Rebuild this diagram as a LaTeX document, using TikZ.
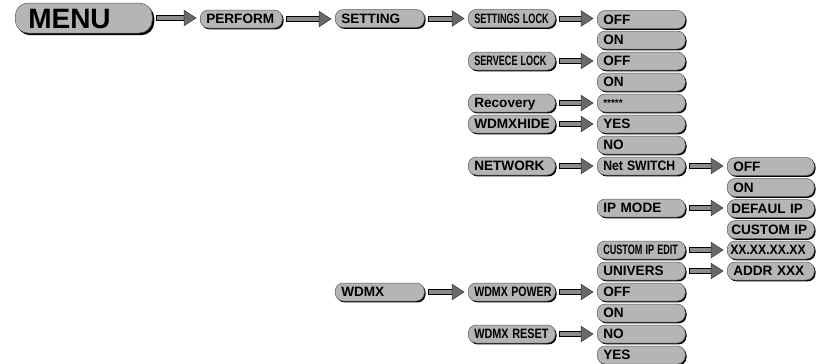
\documentclass[tikz,border=0pt]{standalone}
\usepackage{fontspec}
\setmainfont{Liberation Sans}
\usetikzlibrary{calc,shadows}
\definecolor{boxgray}{RGB}{181,181,181}
\definecolor{shaftgray}{RGB}{140,140,140}
\definecolor{headgray}{RGB}{105,105,105}
\tikzset{
  bx/.style={draw=black!65, line width=0.5pt, fill=boxgray, rounded corners=8pt,
    minimum height=18pt, inner ysep=0pt, inner xsep=6pt, anchor=west, align=left,
    text height=9.8pt, text depth=0pt,
    font=\bfseries\fontsize{13.6}{13.6}\selectfont,
    drop shadow={shadow xshift=1.3pt, shadow yshift=-1.4pt, fill=black, opacity=1}},
  cP/.style={bx, text width=70pt},
  cA/.style={bx, text width=77pt},
  cB/.style={bx, text width=75pt},
  cC/.style={bx, text width=76pt},
  cD/.style={bx, text width=75pt},
  shaft/.style={fill=shaftgray, draw=black, line width=0.6pt},
  head/.style={fill=headgray, draw=black!80, line width=0.5pt}
}
\newcommand{\conn}[2]{%
  \filldraw[shaft] let \p1=(#1.east), \p2=(#2.west) in
    (\x1+4pt,\y1+2.7pt) -- (\x2-15pt,\y1+2.7pt) -- (\x2-15pt,\y1-2.7pt) -- (\x1+4pt,\y1-2.7pt) -- cycle;
  \filldraw[head] let \p1=(#1.east), \p2=(#2.west) in
    (\x2-16pt,\y1+7.8pt) -- (\x2-4pt,\y1) -- (\x2-16pt,\y1-7.8pt) -- cycle;}
\newcommand{\cnd}[2]{\scalebox{#1}[1]{#2}}
\begin{document}
\begin{tikzpicture}[x=1pt,y=-1pt]
\useasboundingbox (0,0) rectangle (823,364);
% column 0/1
\node[bx, minimum height=30pt, rounded corners=13pt, inner xsep=13pt, text width=111pt,
      text height=20pt, font=\bfseries\fontsize{28}{28}\selectfont,
      drop shadow={shadow xshift=2pt, shadow yshift=-2.2pt, fill=black, opacity=1}] (menu) at (15,18) {MENU};
\node[cP] (perform) at (200,19) {PERFORM};
% column 2
\node[cA] (setting) at (335,18.5) {SETTING};
\node[cA] (wdmx) at (335,292) {WDMX};
% column 3
\node[cB] (slock) at (468,18.5) {\cnd{0.67}{SETTINGS LOCK}};
\node[cB] (svlock) at (468,61) {\cnd{0.67}{SERVECE LOCK}};
\node[cB] (recov) at (468,103) {Recovery};
\node[cB] (whide) at (468,124) {WDMXHIDE};
\node[cB] (network) at (468,166) {NETWORK};
\node[cB] (wpower) at (468,292) {\cnd{0.78}{WDMX POWER}};
\node[cB] (wreset) at (468,334) {\cnd{0.8}{WDMX RESET}};
% column 4
\node[cC] (off1) at (597,19.5) {OFF};
\node[cC] (on1) at (597,40) {ON};
\node[cC] (off2) at (597,61) {OFF};
\node[cC] (on2) at (597,82) {ON};
\node[cC, font=\bfseries\fontsize{10}{10}\selectfont, text height=6.5pt] (pwd) at (597,103) {*****};
\node[cC] (yes1) at (597,124) {YES};
\node[cC] (no1) at (597,145) {NO};
\node[cC] (netsw) at (597,166) {\cnd{0.9}{Net SWITCH}};
\node[cC] (ipmode) at (597,208) {IP MODE};
\node[cC] (cipedit) at (597,250) {\cnd{0.67}{CUSTOM IP EDIT}};
\node[cC] (univ) at (597,271) {UNIVERS};
\node[cC] (off3) at (597,292) {OFF};
\node[cC] (on3) at (597,313) {ON};
\node[cC] (no2) at (597,334) {NO};
\node[cC] (yes2) at (597,355) {YES};
% column 5
\node[cD] (off4) at (727,166.5) {OFF};
\node[cD] (on4) at (727,187.5) {ON};
\node[cD, inner xsep=4pt, text width=79pt] (defip) at (727,208.5) {DEFAUL IP};
\node[cD, inner xsep=4pt, text width=79pt] (custip) at (727,229.5) {CUSTOM IP};
\node[cD, inner xsep=3pt, text width=81pt] (xxip) at (727,250) {\cnd{0.9}{XX.XX.XX.XX}};
\node[cD] (addr) at (727,271) {ADDR XXX};
% connectors
\conn{menu}{perform}
\conn{perform}{setting}
\conn{setting}{slock}
\conn{slock}{off1}
\conn{svlock}{off2}
\conn{recov}{pwd}
\conn{whide}{yes1}
\conn{network}{netsw}
\conn{netsw}{off4}
\conn{ipmode}{defip}
\conn{cipedit}{xxip}
\conn{univ}{addr}
\conn{wdmx}{wpower}
\conn{wpower}{off3}
\conn{wreset}{no2}
\end{tikzpicture}
\end{document}
